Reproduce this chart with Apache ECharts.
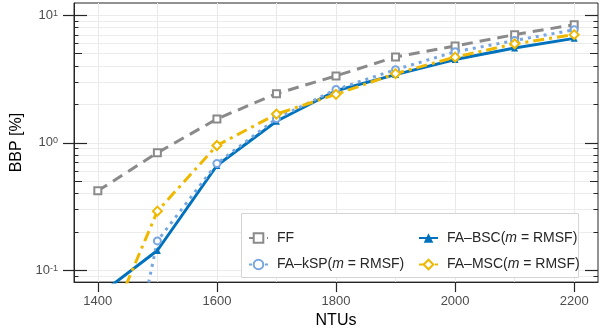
<!DOCTYPE html>
<html><head><meta charset="utf-8">
<script src="https://cdn.jsdelivr.net/npm/echarts@6/dist/echarts.min.js"></script>
<style>html,body{margin:0;padding:0;background:#fff}#c{width:608px;height:334px}</style>
</head><body><div id="c"></div>
<script>
// ---- data ----
const ntus = [1400, 1500, 1600, 1700, 1800, 1900, 2000, 2100, 2200];
const ffVals  = [0.42, 0.835, 1.54, 2.43, 3.35, 4.72, 5.75, 7.06, 8.45];
const bscVals = [0.063, 0.143, 0.664, 1.476, 2.56, 3.43, 4.50, 5.55, 6.60];
const kspVals = [0.001, 0.170, 0.689, 1.55, 2.62, 3.75, 5.18, 6.35, 7.70];
const mscVals = [0.023, 0.291, 0.953, 1.68, 2.40, 3.49, 4.70, 5.98, 7.06];
const seriesNames = ['FF', 'FA–BSC(m = RMSF)', 'FA–kSP(m = RMSF)', 'FA–MSC(m = RMSF)'];
const xTickLabels = [1400, 1600, 1800, 2000, 2200];
const xGridVals = [1400, 1500, 1600, 1700, 1800, 1900, 2000, 2100, 2200];
const yMajor = [0.1, 1, 10];
const yMedium = [0.5, 5];
const yAll = [0.09, 0.1, 0.2, 0.3, 0.4, 0.5, 0.6, 0.7, 0.8, 0.9, 1, 2, 3, 4, 5, 6, 7, 8, 9, 10];

const FONT = 'Liberation Sans, Arial, Helvetica, sans-serif';
const AX = '#262626';
const YMIN = 0.0808, YMAX = 12.5, XMIN = 1360, XMAX = 2240;

function pairs(vals) { return ntus.map((x, i) => [x, vals[i]]); }

function yAx(extra) {
  return Object.assign({
    type: 'log', logBase: 10, min: YMIN, max: YMAX, gridIndex: 0,
    axisLine: { show: false }, axisLabel: { show: false }, splitLine: { show: false },
    axisTick: { show: false }
  }, extra);
}

const chart = echarts.init(document.getElementById('c'), null, { renderer: 'canvas' });
const legendFmt = n => {
  const k = n.indexOf('(m');
  if (k < 0) return '{n|' + n + '}';
  return '{n|' + n.slice(0, k + 1) + '}{i|m}{n|' + n.slice(k + 2) + '}';
};
const legendText = {
  rich: {
    n: { fontSize: 14, color: AX, fontFamily: FONT },
    i: { fontSize: 14, color: AX, fontFamily: FONT, fontStyle: 'italic' }
  },
  padding: [0, 0, 0, 4]
};

chart.setOption({
  animation: false,
  textStyle: { fontFamily: FONT },
  grid: { left: 74, right: 10, top: 3, bottom: 51, show: true, borderColor: AX, borderWidth: 1, backgroundColor: 'transparent' },
  graphic: [{
    type: 'rect', z: 3, silent: true,
    shape: { x: 241.5, y: 213.5, width: 337, height: 64 },
    style: { fill: '#fff', stroke: '#d4d4d4', lineWidth: 1 }
  }],
  legend: [{
    z: 10, orient: 'vertical', left: 243, top: 226, itemGap: 12.5, itemWidth: 19, itemHeight: 12,
    data: ['FF', 'FA–kSP(m = RMSF)'], formatter: legendFmt, textStyle: legendText
  }, {
    z: 10, orient: 'vertical', left: 413, top: 226, itemGap: 12.5, itemWidth: 19, itemHeight: 12,
    data: ['FA–BSC(m = RMSF)', 'FA–MSC(m = RMSF)'], formatter: legendFmt, textStyle: legendText
  }],
  xAxis: [{
    type: 'value', min: XMIN, max: XMAX, position: 'bottom',
    name: 'NTUs', nameLocation: 'middle', nameGap: 29,
    nameTextStyle: { fontSize: 16, color: '#000', fontFamily: FONT },
    axisLine: { show: true, lineStyle: { color: AX, width: 1 } },
    axisTick: { show: true, inside: false, length: 10, customValues: xTickLabels, lineStyle: { color: AX, width: 1.2 } },
    axisLabel: { show: true, customValues: xTickLabels, margin: 13, fontSize: 13, color: '#4d4d4d', fontFamily: FONT,
                 formatter: v => String(v) },
    splitLine: { show: false }
  }, {
    type: 'value', min: XMIN, max: XMAX, position: 'bottom',
    axisLine: { show: false }, axisLabel: { show: false },
    axisTick: { show: false, customValues: xGridVals },
    splitLine: { show: true, lineStyle: { color: '#e9e9e9', width: 1 } }
  }],
  yAxis: [
    yAx({
      position: 'left', name: 'BBP [%]', nameLocation: 'middle', nameGap: 45,
      nameTextStyle: { fontSize: 16, color: '#000', fontFamily: FONT },
      axisLine: { show: true, lineStyle: { color: AX, width: 1 } },
      axisTick: { show: true, inside: false, length: 11, customValues: yMajor, lineStyle: { color: AX, width: 1.2 } },
      axisLabel: {
        show: true, customValues: yMajor, margin: 16,
        formatter: v => '{b|10}{s|' + Math.round(Math.log10(v)) + '}',
        rich: {
          b: { fontSize: 13, color: '#4d4d4d', fontFamily: FONT, lineHeight: 13, padding: [3, 0, 0, 0], verticalAlign: 'bottom' },
          s: { fontSize: 9, color: '#4d4d4d', fontFamily: FONT, lineHeight: 9, verticalAlign: 'top' }
        }
      }
    }),
    yAx({ position: 'left', axisTick: { show: true, inside: true, length: 13, customValues: yMajor, lineStyle: { color: AX, width: 1.2 } } }),
    yAx({ position: 'left', axisTick: { show: true, inside: true, length: 8, customValues: yMedium, lineStyle: { color: AX, width: 1 } } }),
    yAx({ position: 'left', axisTick: { show: true, inside: true, length: 4.5, customValues: yAll, lineStyle: { color: AX, width: 1 } },
          splitLine: { show: true, lineStyle: { color: '#ececec', width: 1 } } }),
    yAx({ position: 'right', axisTick: { show: true, inside: true, length: 13, customValues: yMajor, lineStyle: { color: AX, width: 1.2 } } }),
    yAx({ position: 'right', axisTick: { show: true, inside: true, length: 8, customValues: yMedium, lineStyle: { color: AX, width: 1 } } }),
    yAx({ position: 'right', axisTick: { show: true, inside: true, length: 4.5, customValues: yAll, lineStyle: { color: AX, width: 1 } } })
  ],
  series: [{
    name: seriesNames[0], type: 'line', data: pairs(ffVals), xAxisIndex: 0, yAxisIndex: 0,
    symbol: 'emptyRect', symbolSize: 7, z: 2,
    lineStyle: { color: '#8a8a8a', width: 3, type: [11, 7] },
    itemStyle: { color: '#8a8a8a', borderWidth: 1.2 }
  }, {
    name: seriesNames[1], type: 'line', data: pairs(bscVals), xAxisIndex: 0, yAxisIndex: 0,
    symbol: 'triangle', symbolSize: 7, z: 2,
    lineStyle: { color: '#0072BD', width: 3 },
    itemStyle: { color: '#0072BD' }
  }, {
    name: seriesNames[2], type: 'line', data: pairs(kspVals), xAxisIndex: 0, yAxisIndex: 0,
    symbol: 'emptyCircle', symbolSize: 7, z: 2,
    lineStyle: { color: '#78a6e0', width: 3, type: [3, 5] },
    itemStyle: { color: '#78a6e0', borderWidth: 1.2 }
  }, {
    name: seriesNames[3], type: 'line', data: pairs(mscVals), xAxisIndex: 0, yAxisIndex: 0,
    symbol: 'emptyDiamond', symbolSize: 9, z: 2,
    lineStyle: { color: '#EFB800', width: 3, type: [11, 5, 3, 5] },
    itemStyle: { color: '#EFB800', borderWidth: 1.4 }
  }]
});
</script></body></html>
